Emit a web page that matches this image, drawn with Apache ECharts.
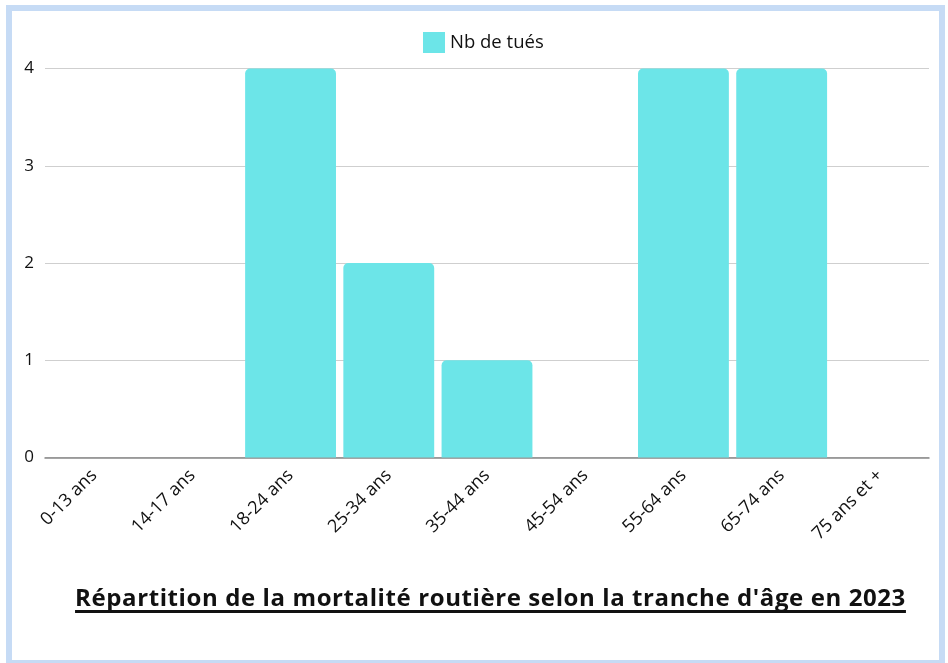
<!DOCTYPE html>
<html>
<head>
<meta charset="utf-8">
<script src="https://cdn.jsdelivr.net/npm/echarts@6/dist/echarts.min.js"></script>
<style>
  html, body { margin: 0; padding: 0; background: #ffffff; }
  #frame { position: absolute; left: 6px; top: 5px; width: 927px; height: 649px; border: 6px solid #c6dbf5; background: #fff; }
  #chart { position: absolute; left: 0; top: 0; width: 948px; height: 663px; }
  #title { position: absolute; left: 0; width: 981px; top: 580px; text-align: center; font-family: "Open Sans", sans-serif; font-weight: 700; font-size: 24px; color: #111; text-decoration: underline; text-decoration-thickness: 2.5px; text-underline-offset: 4px; text-decoration-skip-ink: none; letter-spacing: 0.6px; white-space: nowrap; }
</style>
</head>
<body>
<div id="frame"></div>
<div id="chart"></div>
<div id="title">Répartition de la mortalité routière selon la tranche d'âge en 2023</div>
<script>
const categories = ["0-13 ans", "14-17 ans", "18-24 ans", "25-34 ans", "35-44 ans", "45-54 ans", "55-64 ans", "65-74 ans", "75 ans et +"];
const seriesName = "Nb de tués";
const values = [0, 0, 4, 2, 1, 0, 4, 4, 0];
const yTicks = [0, 1, 2, 3, 4];

const FONT = '"Open Sans", sans-serif';
const chart = echarts.init(document.getElementById('chart'), null, { renderer: 'canvas' });
chart.setOption({
  backgroundColor: 'transparent',
  animation: false,
  textStyle: { fontFamily: FONT },
  legend: {
    data: [seriesName],
    left: 418, top: 27,
    itemWidth: 22, itemHeight: 21, itemGap: 10,
    icon: 'rect',
    textStyle: { fontSize: 18.5, color: '#111', fontFamily: FONT }
  },
  grid: { left: 45, right: 19, top: 68.5, bottom: 205.5, containLabel: false },
  xAxis: {
    type: 'category',
    data: categories,
    axisLine: { show: true, lineStyle: { color: '#888', width: 1.5 } },
    axisTick: { show: false },
    axisLabel: { rotate: 45, fontSize: 18, color: '#111', margin: 15, interval: 0, fontFamily: FONT, padding: [0, 0, 0, 0] }
  },
  yAxis: {
    type: 'value',
    min: yTicks[0], max: yTicks[yTicks.length - 1], interval: 1,
    axisLine: { show: false },
    axisTick: { show: false },
    splitLine: { lineStyle: { color: '#cfcfcf', width: 1 } },
    axisLabel: { fontSize: 17, color: '#111', margin: 11, fontFamily: FONT }
  },
  series: [{
    name: seriesName,
    type: 'bar',
    data: values,
    barCategoryGap: '7.5%',
    itemStyle: { color: '#6ce5e8', borderRadius: [5, 5, 0, 0] }
  }]
});
</script>
</body>
</html>
